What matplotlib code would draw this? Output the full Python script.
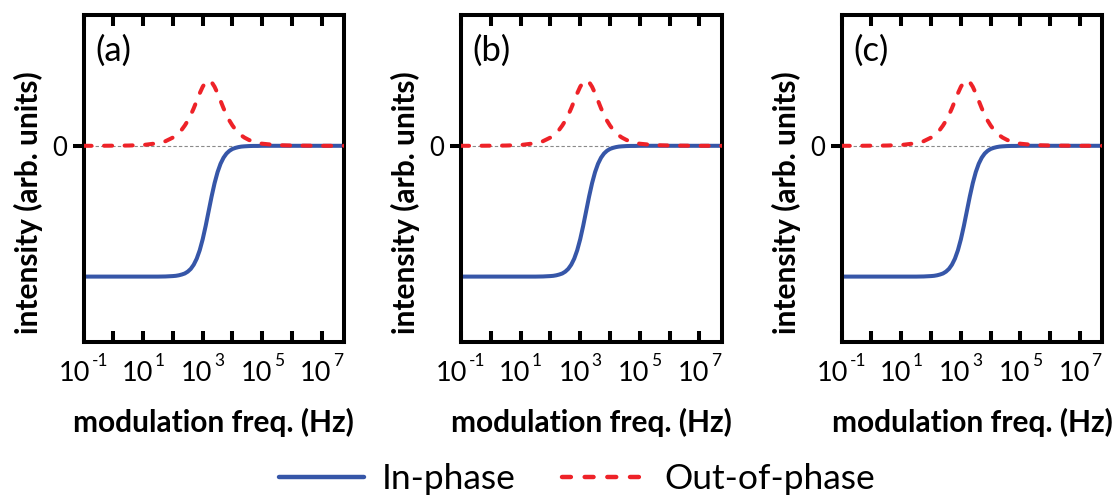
import numpy as np
import matplotlib
matplotlib.use("Agg")
import matplotlib.pyplot as plt
from matplotlib.lines import Line2D
from matplotlib.ticker import FixedLocator, NullFormatter, NullLocator

plt.rcParams["font.family"] = ["Lato", "DejaVu Sans"]

# log10 of the modulation frequency (Hz) at each sample
log_freq = [-1.0, -0.5, 0.0, 0.5, 1.0, 1.5, 1.75, 2.0, 2.1, 2.2, 2.3, 2.4,
            2.5, 2.6, 2.7, 2.8, 2.9, 3.0, 3.1, 3.2, 3.3, 3.4, 3.5, 3.6, 3.7,
            3.8, 3.9, 4.0, 4.1, 4.2, 4.3, 4.4, 4.55, 4.7, 4.85, 5.0, 5.5,
            6.0, 6.5, 7.0, 7.5, 7.75]
# in-phase response (normalised)
in_phase = [-1.000, -1.000, -1.000, -1.000, -1.000, -1.000, -0.999, -0.996,
            -0.994, -0.990, -0.984, -0.976, -0.962, -0.941, -0.909, -0.863,
            -0.799, -0.715, -0.613, -0.500, -0.387, -0.285, -0.201, -0.137,
            -0.091, -0.059, -0.038, -0.024, -0.016, -0.010, -0.006, -0.004,
            -0.002, -0.001, -0.001, 0.000, 0.000, 0.000, 0.000, 0.000,
            0.000, 0.000]
# out-of-phase response (normalised)
out_of_phase = [0.000, 0.000, 0.001, 0.002, 0.006, 0.020, 0.035, 0.063,
                0.079, 0.099, 0.124, 0.155, 0.192, 0.236, 0.287, 0.344,
                0.401, 0.451, 0.487, 0.500, 0.487, 0.451, 0.401, 0.344,
                0.287, 0.236, 0.192, 0.155, 0.124, 0.099, 0.079, 0.063,
                0.045, 0.032, 0.022, 0.016, 0.005, 0.002, 0.001, 0.000,
                0.000, 0.000]

panel_labels = ["(a)", "(b)", "(c)"]
tick_exponents = [-1, 0, 1, 2, 3, 4, 5, 6, 7]
labeled_exponents = [-1, 1, 3, 5, 7]

BLUE = "#3656A8"
RED = "#EE2228"
LW = 2.9
DASH = (2.0, 3.1)
BASE_FS, SUP_FS = 19.5, 12.5

freq = 10.0 ** np.array(log_freq)

W, H = 1117, 499
DPI = 100
fig = plt.figure(figsize=(W / DPI, H / DPI), dpi=DPI)
renderer = fig.canvas.get_renderer()
PX2PT = 72.0 / DPI


def text_width_pt(s, fs):
    t = fig.text(0, 0, s, fontsize=fs)
    w = t.get_window_extent(renderer).width * PX2PT
    t.remove()
    return w


panel_left_px = [83.5, 461.0, 841.7]
ax_w_px, ax_top_px, ax_bot_px = 260.7, 15.0, 342.0
gap_pt = 1.2

for left_px, label in zip(panel_left_px, panel_labels):
    ax = fig.add_axes([left_px / W, (H - ax_bot_px) / H,
                       ax_w_px / W, (ax_bot_px - ax_top_px) / H])
    ax.set_xscale("log")
    ax.set_xlim(10 ** -1, 10 ** 7.75)
    ax.set_ylim(-1.5, 1.0)

    ax.axhline(0, color="#8a8a8a", lw=0.8, ls=(0, (3, 2)), zorder=1)
    ax.plot(freq, in_phase, color=BLUE, lw=LW, zorder=2,
            solid_capstyle="butt", solid_joinstyle="round")
    ax.plot(freq, out_of_phase, color=RED, lw=LW, zorder=3,
            dashes=DASH, dash_capstyle="round")

    ax.xaxis.set_major_locator(FixedLocator([10.0 ** e for e in tick_exponents]))
    ax.xaxis.set_minor_locator(NullLocator())
    ax.xaxis.set_major_formatter(NullFormatter())
    ax.tick_params(axis="x", which="major", direction="in", top=True,
                   bottom=True, length=8, width=LW)
    ax.set_yticks([0])
    ax.set_yticklabels(["0"])
    ax.tick_params(axis="y", direction="out", length=8, width=LW,
                   labelsize=18.5, pad=4)
    for sp in ax.spines.values():
        sp.set_linewidth(LW)

    # power-of-ten tick labels: base and raised exponent, centred on the tick
    xtr = ax.get_xaxis_transform()
    base_w = text_width_pt("10", BASE_FS)
    for e in labeled_exponents:
        sup_w = text_width_pt(str(e), SUP_FS)
        total = base_w + gap_pt + sup_w
        x0 = -total / 2
        ax.annotate("10", xy=(10.0 ** e, 0), xycoords=xtr,
                    xytext=(x0, -28.0), textcoords="offset points",
                    ha="left", va="baseline", fontsize=BASE_FS)
        ax.annotate(str(e), xy=(10.0 ** e, 0), xycoords=xtr,
                    xytext=(x0 + base_w + gap_pt, -17.5),
                    textcoords="offset points",
                    ha="left", va="baseline", fontsize=SUP_FS)

    ax.text(0.045, 0.94, label, transform=ax.transAxes, fontsize=25,
            ha="left", va="top")
    ax.text(0.5, -0.245, "modulation freq. (Hz)", transform=ax.transAxes,
            fontsize=21.5, fontweight="bold", ha="center", va="center")
    ax.text(-0.212, 0.425, "intensity (arb. units)", transform=ax.transAxes,
            fontsize=21.5, fontweight="bold", ha="center", va="center",
            rotation=90)

handles = [
    Line2D([], [], color=BLUE, lw=LW + 0.3, solid_capstyle="round"),
    Line2D([], [], color=RED, lw=LW + 0.3, dashes=DASH,
           dash_capstyle="round"),
]
fig.legend(handles, ["In-phase", "Out-of-phase"], loc="center",
           bbox_to_anchor=(577 / W, (H - 479) / H), ncol=2, frameon=False,
           fontsize=25.5, handlelength=2.4, handletextpad=0.5,
           columnspacing=1.3, borderpad=0, borderaxespad=0)

fig.savefig("out.png", dpi=DPI)
